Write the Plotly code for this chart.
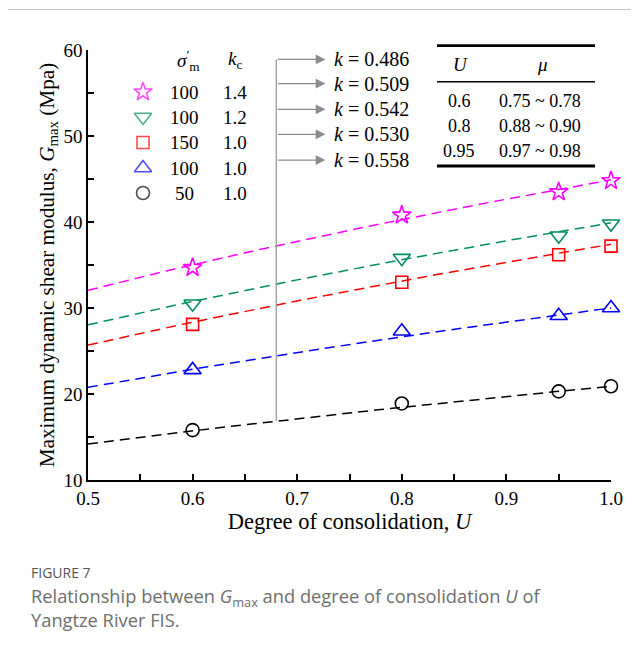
import numpy as np
import plotly.graph_objects as go

# ---------------- data ----------------
U = [0.6, 0.8, 0.95, 1.0]
sigma_m = ["100", "100", "150", "100", "50"]
k_c = ["1.4", "1.2", "1.0", "1.0", "1.0"]
G_star = [34.7, 40.8, 43.5, 44.8]
G_tridown = [30.5, 35.8, 38.4, 39.8]
G_square = [28.1, 33.0, 36.2, 37.2]
G_triup = [22.8, 27.3, 29.1, 30.0]
G_circle = [15.8, 18.9, 20.3, 20.9]
fit_k = [0.486, 0.509, 0.542, 0.530, 0.558]
fit_A = [44.9, 39.9, 37.4, 30.0, 20.9]   # G at U = 1.0 on each fitted curve
table_U = ["0.6", "0.8", "0.95"]
table_mu = ["0.75 ~ 0.78", "0.88 ~ 0.90", "0.97 ~ 0.98"]
x_ticks = [0.5, 0.6, 0.7, 0.8, 0.9, 1.0]
x_ticklabels = ["0.5", "0.6", "0.7", "0.8", "0.9", "1.0"]
y_ticks = [10, 20, 30, 40, 50, 60]

series = [G_star, G_tridown, G_square, G_triup, G_circle]
colors = ["#ff00ff", "#008f5a", "#ff0000", "#0000ff", "#000000"]
symbols = ["star-open", "triangle-down-open", "square-open", "triangle-up-open", "circle-open"]
sizes = [14, 15, 12, 15, 13]

SERIF = "Liberation Serif, Times New Roman, serif"
OFF = 8  # page body margin of the browser


def px2x(px):
    return (px - 88) / 523


def py2y(py):
    return (480 - py) / 430


fig = go.Figure()

# fitted power-law curves G = A * U^k
Uf = np.linspace(0.5, 1.0, 101)
for A, k, c in zip(fit_A, fit_k, colors):
    fig.add_trace(go.Scatter(x=Uf, y=A * Uf ** k, mode="lines",
                             line=dict(color=c, width=1.5, dash="10px,6px"),
                             showlegend=False, hoverinfo="skip"))

for ys, c, s, sz in zip(series, colors, symbols, sizes):
    fig.add_trace(go.Scatter(x=U, y=ys, mode="markers", showlegend=False, cliponaxis=False,
                             marker=dict(symbol=s, size=sz, color=c,
                                         line=dict(color=c, width=1.6))))

# legend (drawn on a pixel-space overlay axis)
leg_rows_py = [92, 117, 142.5, 168, 193]
fig.add_trace(go.Scatter(x=[143] * 5, y=leg_rows_py, xaxis="x2", yaxis="y2", mode="markers",
                         showlegend=False, hoverinfo="skip",
                         marker=dict(symbol=symbols, size=sizes, color=colors,
                                     line=dict(color=colors, width=1.6))))
for pyr, sm, kc in zip(leg_rows_py, sigma_m, k_c):
    fig.add_annotation(x=184.5, y=pyr, xref="x2", yref="y2", xanchor="center", yanchor="middle",
                       text=sm, showarrow=False, font=dict(family=SERIF, size=19, color="black"))
    fig.add_annotation(x=235, y=pyr, xref="x2", yref="y2", xanchor="center", yanchor="middle",
                       text=kc, showarrow=False, font=dict(family=SERIF, size=19, color="black"))
fig.add_annotation(x=188, y=60, xref="x2", yref="y2", xanchor="center", yanchor="middle",
                   showarrow=False, text="<i>σ</i><sup>′</sup><sub>m</sub>",
                   font=dict(family=SERIF, size=19, color="black"))
fig.add_annotation(x=235, y=60, xref="x2", yref="y2", xanchor="center", yanchor="middle",
                   showarrow=False, text="<i>k</i><sub>c</sub>",
                   font=dict(family=SERIF, size=19, color="black"))

# gray connector with arrows to k-labels
x_conn = 0.68
y_bottom = fit_A[4] * x_conn ** fit_k[4]
arrow_y = [58.9, 56.1, 53.1, 50.2, 47.2]
fig.add_shape(type="line", x0=x_conn, x1=x_conn, y0=y_bottom, y1=arrow_y[0],
              line=dict(color="#9a9a9a", width=1.3))
for yk, k in zip(arrow_y, fit_k):
    fig.add_annotation(x=0.727, y=yk, ax=x_conn, ay=yk, axref="x", ayref="y",
                       xref="x", yref="y", text="", showarrow=True,
                       arrowhead=2, arrowsize=1.5, arrowwidth=1.3, arrowcolor="#8c8c8c")
    fig.add_annotation(x=0.7335, y=yk, xref="x", yref="y", xanchor="left", yanchor="middle",
                       text=f"<i>k</i> = {k:.3f}", showarrow=False,
                       font=dict(family=SERIF, size=20, color="black"))

# table
for py, w in [(45.7, 2.8), (81.7, 1.4), (166, 2.8)]:
    fig.add_shape(type="line", xref="paper", yref="paper", x0=px2x(437), x1=px2x(595),
                  y0=py2y(py), y1=py2y(py), line=dict(color="black", width=w))
fig.add_annotation(x=px2x(460), y=py2y(64), xref="paper", yref="paper", showarrow=False,
                   xanchor="center", yanchor="middle",
                   text="<i>U</i>", font=dict(family=SERIF, size=19, color="black"))
fig.add_annotation(x=px2x(542), y=py2y(64), xref="paper", yref="paper", showarrow=False,
                   xanchor="center", yanchor="middle",
                   text="<i>μ</i>", font=dict(family=SERIF, size=19, color="black"))
for j, (tu, tm) in enumerate(zip(table_U, table_mu)):
    pyr = 100.7 + 25 * j
    fig.add_annotation(x=px2x(459), y=py2y(pyr), xref="paper", yref="paper", showarrow=False,
                       xanchor="center", yanchor="middle",
                       text=tu, font=dict(family=SERIF, size=18, color="black"))
    fig.add_annotation(x=px2x(540), y=py2y(pyr), xref="paper", yref="paper", showarrow=False,
                       xanchor="center", yanchor="middle",
                       text=tm, font=dict(family=SERIF, size=18, color="black"))

# page frame lines
fig.add_shape(type="line", xref="paper", yref="paper", x0=px2x(4.5), x1=px2x(4.5),
              y0=py2y(660), y1=py2y(9.5), line=dict(color="#c8c8c8", width=1))
fig.add_shape(type="line", xref="paper", yref="paper", x0=px2x(4.5), x1=px2x(650),
              y0=py2y(9.5), y1=py2y(9.5), line=dict(color="#c8c8c8", width=1))

# caption
fig.add_annotation(x=px2x(29), y=py2y(572.5), xref="paper", yref="paper", showarrow=False,
                   xanchor="left", yanchor="middle", text="FIGURE 7",
                   font=dict(family="Open Sans", size=14, color="#555555"))
fig.add_annotation(x=px2x(29), y=py2y(607.5), xref="paper", yref="paper", showarrow=False,
                   xanchor="left", yanchor="middle", align="left",
                   text="Relationship between <i>G</i><sub>max</sub> and degree of consolidation <i>U</i> of<br>Yangtze River FIS.",
                   font=dict(family="Open Sans", size=18.3, color="#6e6e6e"))

axis_common = dict(showline=True, linecolor="black", linewidth=1.6, ticks="inside",
                   ticklen=6, tickwidth=1.5, tickcolor="black", showgrid=False,
                   zeroline=False, mirror=False,
                   tickfont=dict(family=SERIF, size=19, color="black"))

W, H = 639 - OFF, 650 - OFF
fig.update_layout(
    width=W, height=H,
    margin=dict(l=88 - OFF, r=W - (611 - OFF), t=50 - OFF, b=H - (480 - OFF)),
    paper_bgcolor="white", plot_bgcolor="white",
    showlegend=False,
    xaxis=dict(range=[0.5, 1.0], tickvals=x_ticks, ticktext=x_ticklabels,
               minor=dict(dtick=0.05, ticks="inside", ticklen=6, tickwidth=1.5, tickcolor="black"),
               title=dict(text="Degree of consolidation, <i>U</i>", standoff=6,
                          font=dict(family=SERIF, size=22.5, color="black")),
               **axis_common),
    yaxis=dict(range=[10, 60], tickvals=y_ticks,
               minor=dict(dtick=5, ticks="inside", ticklen=6, tickwidth=1.5, tickcolor="black"),
               title=dict(text="Maximum dynamic shear modulus, <i>G</i><sub>max</sub> (Mpa)", standoff=3,
                          font=dict(family=SERIF, size=21.2, color="black")),
               **axis_common),
    xaxis2=dict(range=[88, 611], overlaying="x", anchor="y2", visible=False, fixedrange=True),
    yaxis2=dict(range=[480, 50], overlaying="y", anchor="x2", visible=False, fixedrange=True),
)

fig.write_html("out.html")
